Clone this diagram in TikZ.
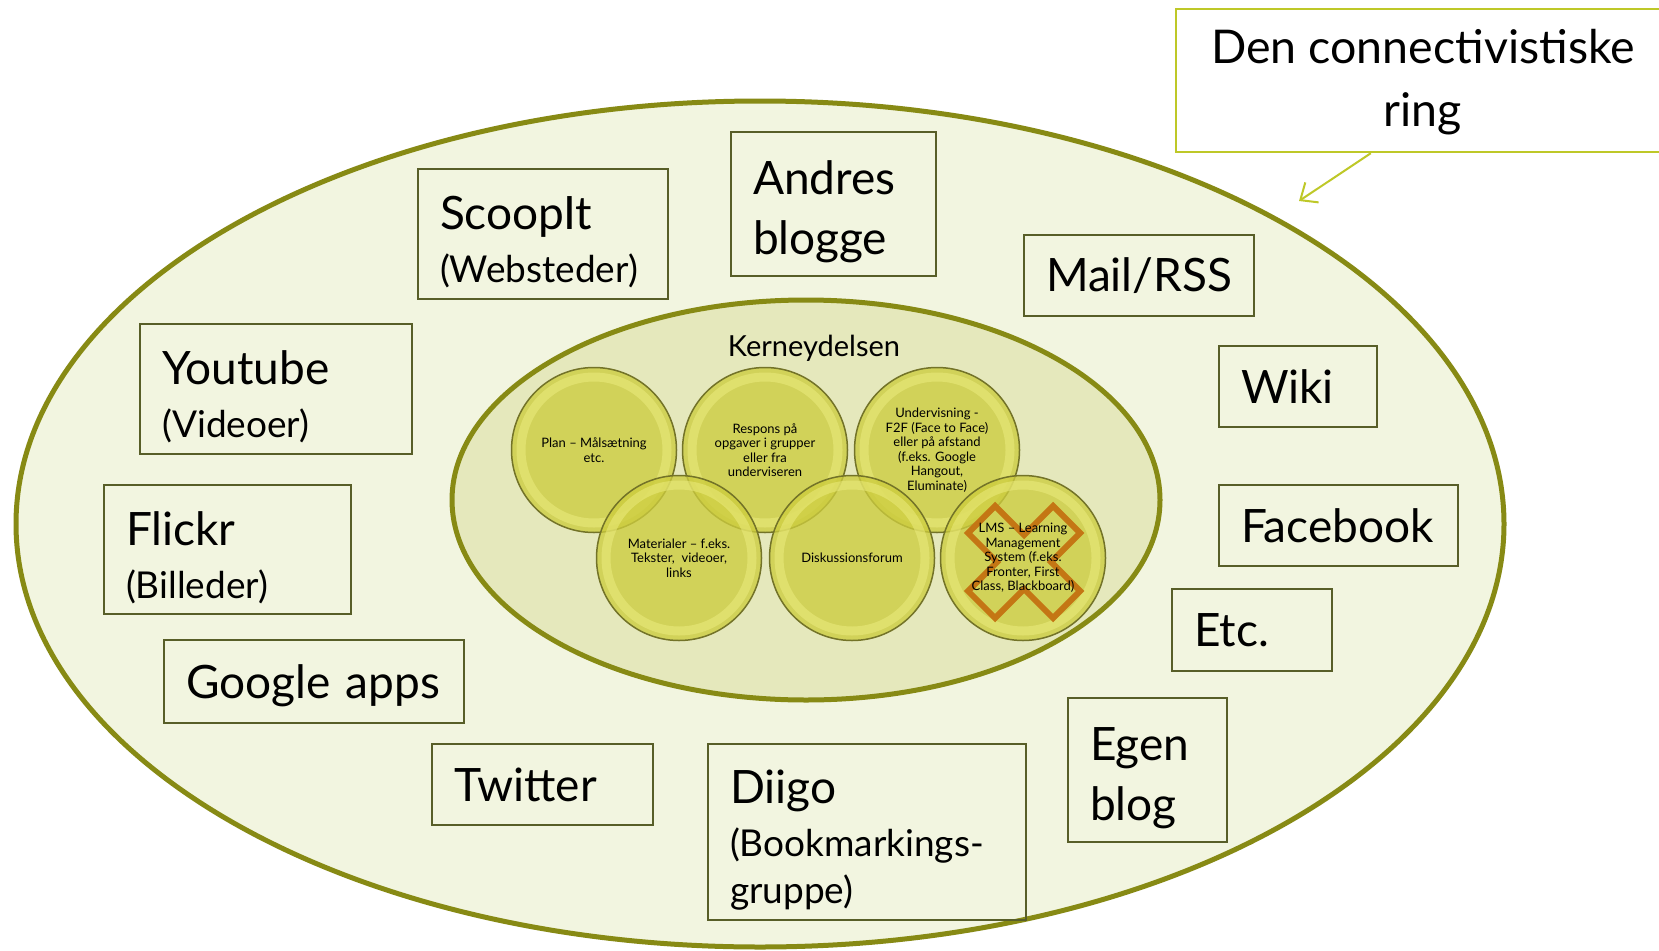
\documentclass[tikz,border=0pt]{standalone}
\usepackage{fontspec}
\setmainfont{Lato}
\usetikzlibrary{arrows.meta}
\definecolor{ringfill}{RGB}{242,245,224}
\definecolor{ringline}{RGB}{135,138,20}
\definecolor{corefill}{RGB}{229,232,188}
\definecolor{boxline}{RGB}{88,94,40}
\definecolor{calloutline}{RGB}{190,200,40}
\definecolor{bubblefill}{RGB}{204,204,62}
\definecolor{bubbleedge}{RGB}{115,115,40}
\definecolor{bubblerim}{RGB}{238,238,130}
\definecolor{crossline}{RGB}{196,118,20}
\newcommand{\bigtxt}{\fontsize{46}{60}\selectfont}
\newcommand{\subtxt}{\fontsize{37}{46}\selectfont}
\newcommand{\bubtxt}{\fontsize{13}{14.5}\selectfont}
\newcommand{\topstrut}{\rule{0pt}{50pt}}

\begin{document}
\begin{tikzpicture}[x=1pt,y=-1pt,
    toolbox/.style={draw=boxline,line width=2.5pt,rectangle,inner xsep=22pt,inner ysep=0pt,align=left,font=\bigtxt},
    bubble/.style={circle,minimum size=165pt,inner sep=0pt,fill=bubblefill,fill opacity=0.78,text opacity=1,
        draw=bubbleedge,line width=1.5pt,align=center,font=\bubtxt,
        path picture={\draw[bubblerim,line width=9pt,opacity=0.5] (path picture bounding box.center) circle (73pt);}},
    crossmark/.style={draw=crossline,line width=6pt,line join=miter}]
  \fill[white] (0,0) rectangle (1659,950);
  \useasboundingbox (0,0) rectangle (1659,950);

  % the two rings
  \draw[ringline,fill=ringfill,line width=5pt] (760,524) ellipse [x radius=744,y radius=423];
  \draw[ringline,fill=corefill,line width=5pt] (806,500) ellipse [x radius=354,y radius=200];
  \node[font=\fontsize{29}{34}\selectfont] (kerne) at (814,348) {Kerneydelsen};

  % core bubbles
  \node[bubble] (plan) at (594,450) {Plan -- Målsætning\\etc.};
  \node[bubble] (respons) at (765,450) {Respons på\\opgaver i grupper\\eller fra\\underviseren};
  \node[bubble] (underv) at (937,450) {Undervisning -\\F2F (Face to Face)\\eller på afstand\\(f.eks. Google\\Hangout,\\Eluminate)};
  \node[bubble] (mater) at (679,558) {Materialer -- f.eks.\\Tekster,\ \ videoer,\\links};
  \node[bubble] (diskus) at (852,558) {Diskussionsforum};
  \node[bubble] (lms) at (1023,558) {};
  \draw[crossmark] (1024,562) ++(-56,-29) -- ++(27,-27) -- ++(29,29) -- ++(29,-29) -- ++(27,27)
      -- ++(-29,29) -- ++(29,29) -- ++(-27,27) -- ++(-29,-29) -- ++(-29,29) -- ++(-27,-27) -- ++(29,-29) -- cycle;
  \node[font=\bubtxt,align=center] (lmstext) at (lms) {LMS -- Learning\\Management\\System (f.eks.\\Fronter, First\\Class, Blackboard)};

  % outer ring tools
  \node[toolbox,text width=206pt,minimum height=130pt] (scoopit) at (543,234) {\topstrut ScoopIt\\[-7pt]{\subtxt (Websteder)}};
  \node[toolbox,text width=161pt,minimum height=144pt] (andres) at (833.5,204) {\topstrut Andres\\blogge};
  \node[toolbox,text width=186pt,minimum height=81pt] (mailrss) at (1139,275.5) {Mail/RSS};
  \node[toolbox,text width=114pt,minimum height=81pt] (wiki) at (1298,386.5) {Wiki};
  \node[toolbox,text width=195pt,minimum height=81pt] (facebook) at (1338.5,525.5) {Facebook};
  \node[toolbox,text width=116pt,minimum height=82pt] (etc) at (1252,630) {Etc.};
  \node[toolbox,text width=115pt,minimum height=144pt] (egenblog) at (1147.5,770) {\topstrut Egen\\blog};
  \node[toolbox,text width=274pt,minimum height=176pt] (diigo) at (867,832) {\topstrut Diigo\\[-7pt]{\subtxt (Bookmarkings-}\\[-13pt]{\subtxt gruppe)}};
  \node[toolbox,text width=177pt,minimum height=81pt] (twitter) at (542.5,784.5) {Twitter};
  \node[toolbox,text width=256pt,minimum height=83pt,text depth=0pt] (google) at (314,681.5) {Google apps};
  \node[toolbox,text width=203pt,minimum height=129pt] (flickr) at (227.5,549.5) {\topstrut Flickr\\[-7pt]{\subtxt (Billeder)}};
  \node[toolbox,text width=228pt,minimum height=130pt] (youtube) at (276,389) {\topstrut Youtube\\[-7pt]{\subtxt (Videoer)}};

  % callout
  \node[draw=calloutline,fill=white,line width=2.5pt,minimum width=520pt,minimum height=143pt] (ringbox) at (1436,80.5) {};
  \node[align=center,font=\fontsize{46.5}{63}\selectfont] (ringtext) at (1423,82) {Den connectivistiske\\ring};
  \coordinate (ringpt) at (1299,201);
  \draw[calloutline,line width=2pt,-{Straight Barb[length=14pt,width=24pt]}] ([xshift=196pt]ringbox.south west) -- (ringpt);
\end{tikzpicture}
\end{document}
